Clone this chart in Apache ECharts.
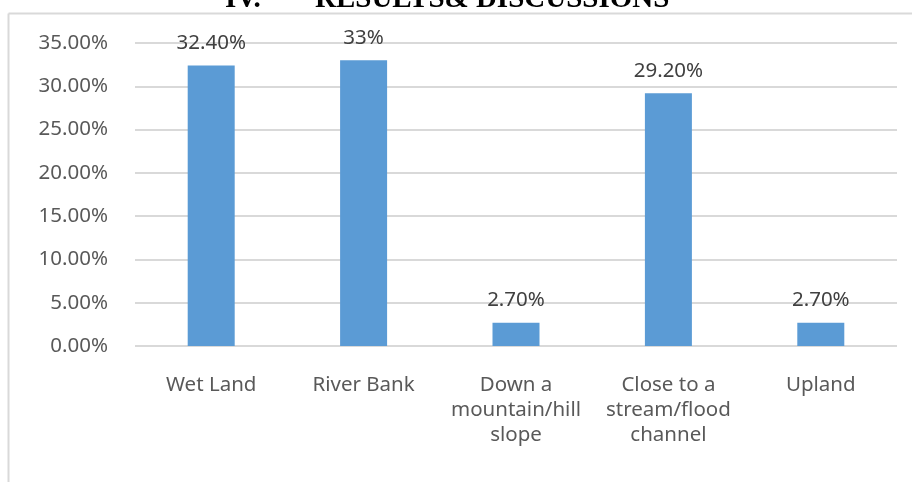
<!DOCTYPE html>
<html>
<head>
<meta charset="utf-8">
<script src="https://cdn.jsdelivr.net/npm/echarts@6/dist/echarts.min.js"></script>
<style>
  html, body { margin: 0; padding: 0; background: #fff; }
  #chart { width: 912px; height: 482px; }
</style>
</head>
<body>
<div id="chart"></div>
<script>
// data
var categories = ['Wet Land', 'River Bank', 'Down a\nmountain/hill\nslope', 'Close to a\nstream/flood\nchannel', 'Upland']
var values = [0.324, 0.33, 0.027, 0.292, 0.027]
var dataLabels = ['32.40%', '33%', '2.70%', '29.20%', '2.70%']
var yTicks = [0, 0.05, 0.10, 0.15, 0.20, 0.25, 0.30, 0.35]

var chart = echarts.init(document.getElementById('chart'))
chart.setOption({
  animation: false,
  textStyle: { fontFamily: 'Noto Sans' },
  graphic: [
    // frame of the chart area (top and left edges are visible)
    { type: 'line', shape: { x1: 8.5, y1: 13.5, x2: 912, y2: 13.5 }, style: { stroke: '#d9d9d9', lineWidth: 2 } },
    { type: 'line', shape: { x1: 8.5, y1: 13.5, x2: 8.5, y2: 482 }, style: { stroke: '#d9d9d9', lineWidth: 2 } },
    // page heading clipped at the top
    { type: 'text', left: 225, top: -15, style: { text: 'IV.', font: 'bold 29px "Liberation Serif"', fill: '#000' } },
    { type: 'text', left: 315, top: -15, style: { text: 'RESULTS& DISCUSSIONS', font: 'bold 29px "Liberation Serif"', fill: '#000' } }
  ],
  grid: { left: 135, right: 15, top: 43, bottom: 136 },
  xAxis: {
    type: 'category',
    data: categories,
    axisLine: { show: false },
    axisTick: { show: false },
    axisLabel: { color: '#595959', fontSize: 20.5, lineHeight: 25, margin: 27, interval: 0 }
  },
  yAxis: {
    type: 'value',
    min: yTicks[0],
    max: yTicks[yTicks.length - 1],
    interval: 0.05,
    axisLine: { show: false },
    axisTick: { show: false },
    splitLine: { lineStyle: { color: '#d9d9d9', width: 2 } },
    axisLabel: {
      color: '#595959', fontSize: 20.5, margin: 27,
      formatter: function (v) { return (v * 100).toFixed(2) + '%' }
    }
  },
  series: [{
    type: 'bar',
    data: values,
    barWidth: 47,
    itemStyle: { color: '#5b9bd5' },
    label: {
      show: true,
      position: 'top',
      distance: 12,
      color: '#404040',
      fontSize: 20.5,
      formatter: function (p) { return dataLabels[p.dataIndex] }
    }
  }]
})
</script>
</body>
</html>
